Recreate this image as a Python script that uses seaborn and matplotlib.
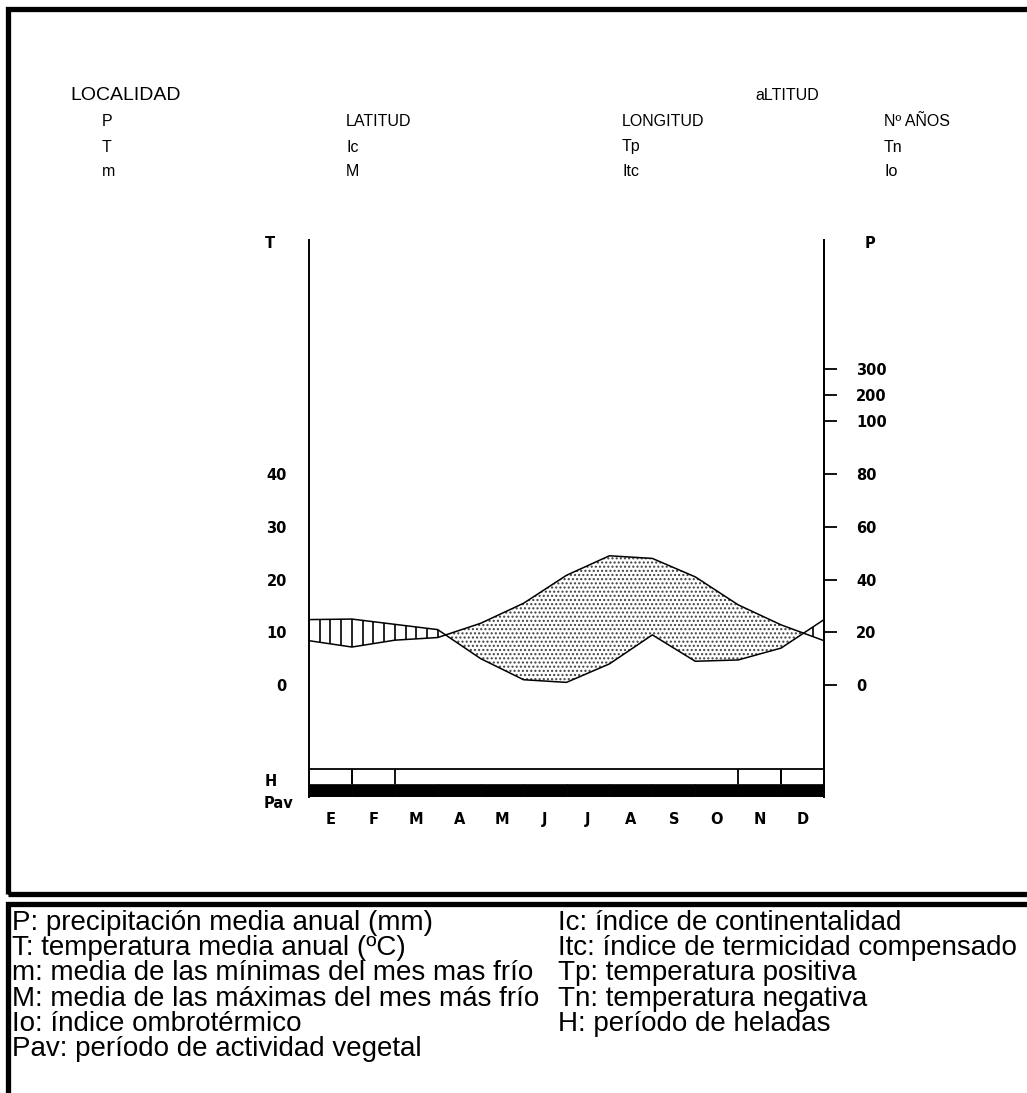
import matplotlib
matplotlib.use("Agg")
import matplotlib.pyplot as plt
from matplotlib.patches import Rectangle
import numpy as np
import pandas as pd
import seaborn as sns

# ---------------------------------------------------------------------------
# Data
# ---------------------------------------------------------------------------
MONTHS = ["E", "F", "M", "A", "M", "J", "J", "A", "S", "O", "N", "D"]
TEMP_C = [7.2, 8.5, 9.0, 11.7, 15.5, 20.8, 24.5, 24.0, 20.5, 15.2, 11.4, 8.4]
PRECIP_MM = [25, 23, 21, 10, 2, 1, 8, 19, 9, 9.5, 14, 24.8]
FROST_MONTHS = [0, 1, 10, 11]          # H: cells drawn for these months
PAV_MONTHS = list(range(12))           # vegetal activity all year

T_TICKS = [0, 10, 20, 30, 40]
P_TICKS = [0, 20, 40, 60, 80, 100, 200, 300]

HEADER_TITLE = "LOCALIDAD"
HEADER_ALT = "aLTITUD"
HEADER_ROWS = [
    ["P", "LATITUD", "LONGITUD", "Nº AÑOS"],
    ["T", "Ic", "Tp", "Tn"],
    ["m", "M", "Itc", "Io"],
]
LEGEND_LEFT = [
    "P: precipitación media anual (mm)",
    "T: temperatura media anual (ºC)",
    "m: media de las mínimas del mes mas frío",
    "M: media de las máximas del mes más frío",
    "Io: índice ombrotérmico",
    "Pav: período de actividad vegetal",
]
LEGEND_RIGHT = [
    "Ic: índice de continentalidad",
    "Itc: índice de termicidad compensado",
    "Tp: temperatura positiva",
    "Tn: temperatura negativa",
    "H: período de heladas",
]

# ---------------------------------------------------------------------------
# Setup
# ---------------------------------------------------------------------------
W, H = 1027, 1093
sns.set_style("white")
plt.rcParams["font.family"] = ["Liberation Sans", "DejaVu Sans"]
plt.rcParams["text.color"] = "black"
plt.rcParams["xtick.color"] = "black"
plt.rcParams["ytick.color"] = "black"
plt.rcParams["hatch.linewidth"] = 1.0

fig = plt.figure(figsize=(W / 100, H / 100), dpi=100)


def fx(px):
    return px / W


def fy(py):
    return 1 - py / H


def p_to_t(p):
    p = np.asarray(p, dtype=float)
    return np.where(p <= 100, p / 2.0, 50 + (p - 100) / 20.0)


def t_to_p(t):
    t = np.asarray(t, dtype=float)
    return np.where(t <= 50, t * 2.0, 100 + (t - 50) * 20.0)


# month boundaries 0..12; December value closes the cycle at x=0
df = pd.DataFrame({
    "pos": np.arange(13),
    "temp": [TEMP_C[-1]] + TEMP_C,
    "precip": p_to_t([PRECIP_MM[-1]] + PRECIP_MM),
})

Y_TOP, Y_BOT = 84.36, -21.23
H_TOP, H_BOT = -15.9, -18.8

ax = fig.add_axes([fx(309), fy(797), fx(824) - fx(309), fy(240) - fy(797)])
ax.set_xlim(0, 12)
ax.set_ylim(Y_BOT, Y_TOP)

# dry period (T above P): dotted
ax.fill_between(df["pos"], df["precip"], df["temp"], where=df["temp"] >= df["precip"],
                interpolate=True, facecolor="none", edgecolor="0.25", hatch="....",
                linewidth=0)

# humid period (P above T): vertical lines
xs = np.arange(0, 12.001, 0.25)
ti = np.interp(xs, df["pos"], df["temp"])
pi = np.interp(xs, df["pos"], df["precip"])
mask = pi > ti
ax.vlines(xs[mask], ti[mask], pi[mask], color="black", linewidth=1.2)

sns.lineplot(data=df, x="pos", y="temp", color="black", linewidth=1.1, ax=ax)
sns.lineplot(data=df, x="pos", y="precip", color="black", linewidth=1.1, ax=ax)

# H band and Pav bar
ax.axhline(H_TOP, color="black", linewidth=1.3)
for m in FROST_MONTHS:
    ax.vlines([m, m + 1], H_BOT, H_TOP, color="black", linewidth=1.3)
ax.broken_barh([(m, 1) for m in PAV_MONTHS], (Y_BOT, H_BOT - Y_BOT),
               facecolor="black", edgecolor="black", linewidth=0.5)

# axes styling
for side in ["top", "bottom"]:
    ax.spines[side].set_visible(False)
for side in ["left", "right"]:
    ax.spines[side].set_color("black")
    ax.spines[side].set_linewidth(1.4)
ax.set_xlabel("")
ax.set_ylabel("")

tick_font = dict(family="DejaVu Sans", weight="bold", size=10.5)
ax.set_xticks(np.arange(12) + 0.5)
ax.set_xticklabels(MONTHS, fontdict=tick_font)
ax.set_xticks(np.arange(13), minor=True)
ax.tick_params(axis="x", which="major", length=0, pad=11)
ax.tick_params(axis="x", which="minor", direction="out", length=5, width=1.2)

ax.set_yticks(T_TICKS)
ax.set_yticklabels([str(v) for v in T_TICKS], fontdict=tick_font)
ax.tick_params(axis="y", direction="out", length=5, width=1.2, pad=11)

sec = ax.secondary_yaxis("right", functions=(t_to_p, p_to_t))
sec.set_yticks(P_TICKS)
sec.set_yticklabels([str(v) for v in P_TICKS], fontdict=tick_font)
sec.tick_params(direction="out", length=9, width=1.3, color="black", pad=14)
sec.spines["right"].set_linewidth(1.4)

# axis captions
cap_font = dict(family="DejaVu Sans", weight="bold", size=10.5)
fig.text(fx(270), fy(243), "T", ha="center", va="center", **cap_font)
fig.text(fx(870), fy(243), "P", ha="center", va="center", **cap_font)
fig.text(fx(265), fy(782), "H", ha="left", va="center", **cap_font)
fig.text(fx(264), fy(803), "Pav", ha="left", va="center", **cap_font)

# header
fig.text(fx(70), fy(95), HEADER_TITLE, ha="left", va="center", fontsize=14)
fig.text(fx(755), fy(95), HEADER_ALT, ha="left", va="center", fontsize=11.5)
cols = [102, 346, 622, 884]
rows_y = [122, 147, 172]
for row, yy in zip(HEADER_ROWS, rows_y):
    for label, xx in zip(row, cols):
        fig.text(fx(xx), fy(yy), label, ha="left", va="center", fontsize=11.5)

# frames
fig.add_artist(Rectangle((fx(8), fy(894)), 1.2, fy(8.5) - fy(894), transform=fig.transFigure,
                         facecolor="none", edgecolor="black", linewidth=3.8, clip_on=False))
fig.add_artist(Rectangle((fx(8), fy(1200)), 1.2, fy(904) - fy(1200), transform=fig.transFigure,
                         facecolor="none", edgecolor="black", linewidth=3.8, clip_on=False))

# legend text
for i, line in enumerate(LEGEND_LEFT):
    fig.text(fx(12), fy(923 + 25.2 * i), line, ha="left", va="center", fontsize=20)
for i, line in enumerate(LEGEND_RIGHT):
    fig.text(fx(558), fy(923 + 25.2 * i), line, ha="left", va="center", fontsize=20)

fig.savefig("out.png", dpi=100)
